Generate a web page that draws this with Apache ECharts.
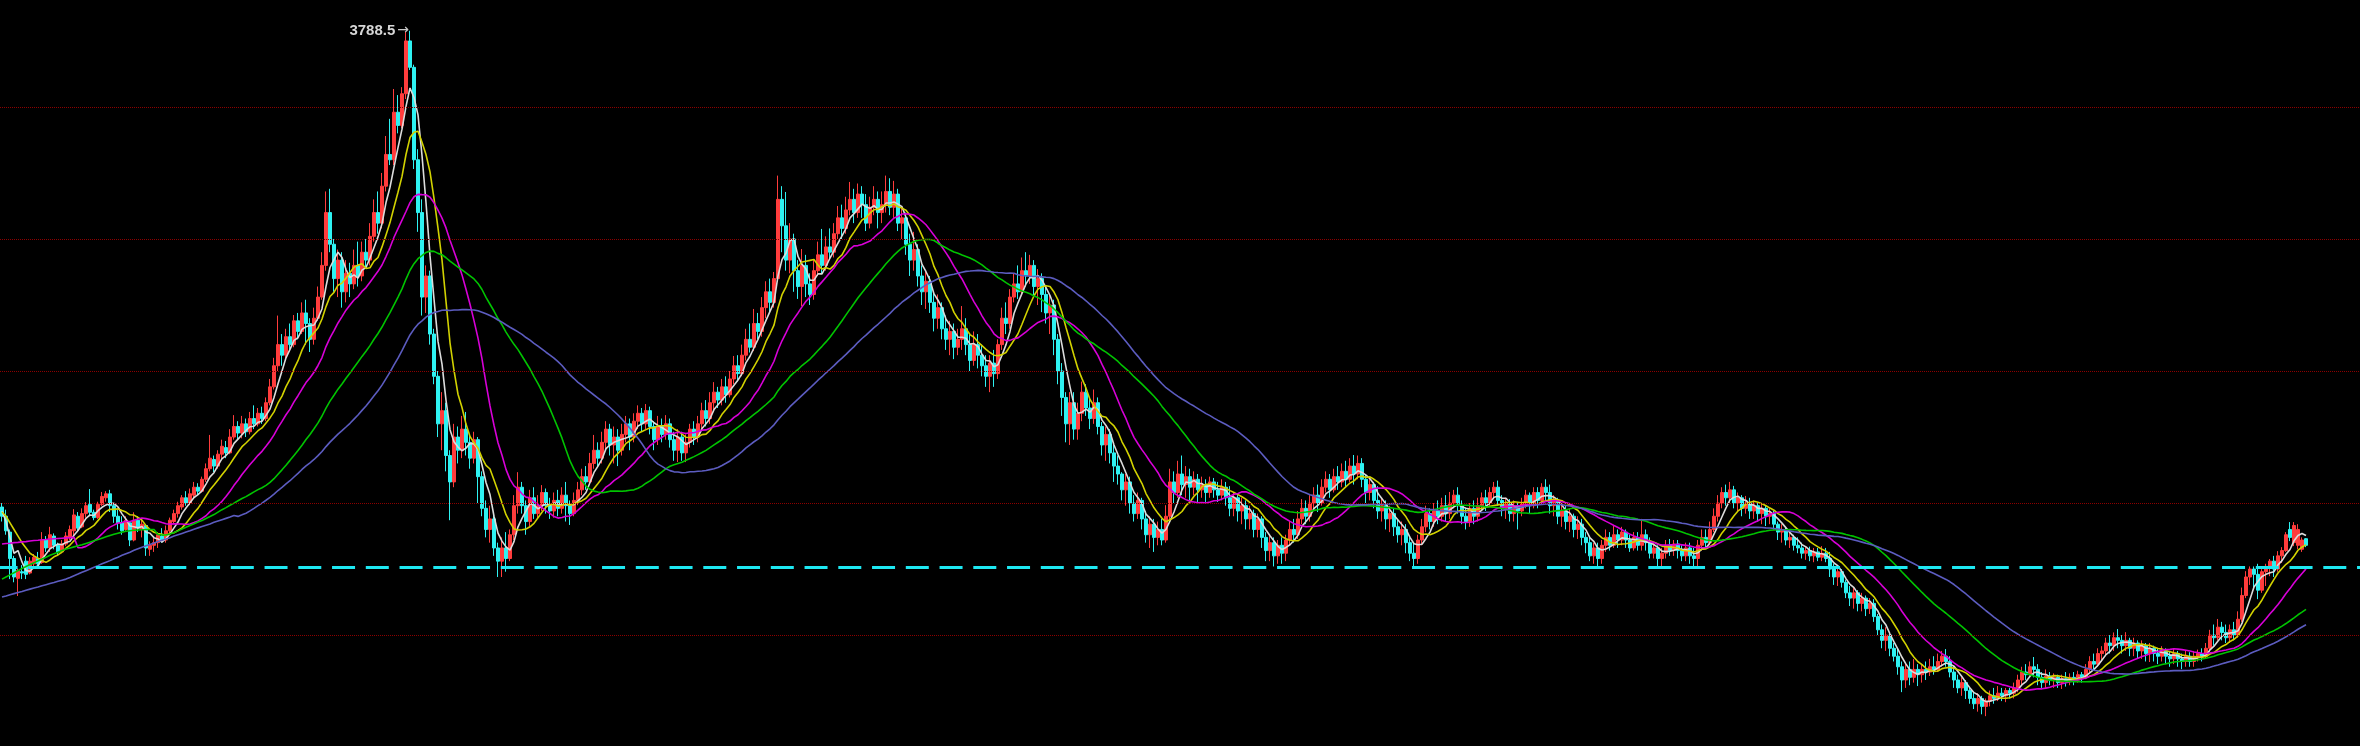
<!DOCTYPE html>
<html><head><meta charset="utf-8">
<script src="https://cdn.jsdelivr.net/npm/echarts@6/dist/echarts.min.js"></script>
<style>html,body{margin:0;padding:0;background:#000;}#c{width:2360px;height:746px;}</style>
</head><body><div id="c"></div>
<script>
// weekly candles: [open, close, low, high]
const candles = [
[1985,1950,1930,2000],[1950,1895,1880,1975],[1890,1790,1712,1900],[1790,1720,1700,1800],[1715,1745,1648,1752],[1740,1735,1712,1765],[1780,1730,1712,1800],[1735,1780,1730,1795],[1770,1795,1750,1807],[1790,1770,1760,1815],
[1775,1860,1770,1890],[1860,1830,1815,1875],[1830,1880,1815,1910],[1875,1840,1825,1885],[1840,1815,1800,1850],[1815,1845,1810,1860],[1845,1875,1837,1890],[1870,1900,1860,1915],[1895,1955,1875,1977],[1950,1905,1890,1966],
[1910,1960,1905,1980],[1960,1990,1945,2004],[1995,1965,1950,2053],[1965,1945,1935,1975],[1945,1995,1940,2005],[1995,2025,1989,2042],[2020,2035,2005,2045],[2035,1990,1966,2050],[1990,1950,1925,2000],[1950,1925,1900,1975],
[1925,1895,1880,1950],[1900,1935,1895,1950],[1925,1860,1837,1928],[1860,1935,1855,1965],[1935,1905,1890,1950],[1900,1920,1870,1940],[1915,1830,1800,1920],[1825,1840,1800,1855],[1840,1850,1815,1870],[1850,1880,1830,1890],
[1875,1860,1850,1905],[1860,1895,1850,1915],[1895,1935,1885,1945],[1930,1960,1920,1975],[1960,1990,1945,2005],[1985,2020,1975,2030],[2020,2000,1990,2045],[2000,2035,1992,2055],[2030,2060,2020,2080],[2060,2045,2030,2075],
[2045,2090,2040,2100],[2090,2130,2080,2150],[2130,2170,2120,2258],[2165,2140,2117,2180],[2140,2185,2130,2200],[2185,2215,2165,2240],[2210,2190,2170,2235],[2190,2250,2185,2280],[2250,2290,2240,2333],[2290,2265,2242,2310],
[2265,2300,2245,2330],[2300,2270,2250,2320],[2270,2320,2260,2345],[2320,2300,2280,2370],[2300,2340,2290,2360],[2340,2320,2300,2365],[2320,2380,2310,2400],[2380,2440,2370,2470],[2440,2520,2430,2550],[2520,2600,2500,2710],
[2600,2560,2520,2640],[2560,2630,2540,2660],[2630,2600,2575,2680],[2600,2690,2590,2712],[2690,2650,2620,2720],[2650,2720,2640,2760],[2720,2680,2600,2770],[2680,2620,2572,2700],[2620,2700,2600,2740],[2700,2780,2690,2820],
[2780,2900,2770,2950],[2900,3100,2880,3180],[3100,2980,2950,3190],[2980,2850,2800,3000],[2850,2920,2780,2960],[2920,2800,2740,2950],[2800,2870,2760,2920],[2870,2830,2780,2910],[2830,2900,2810,2960],[2900,2860,2820,2990],
[2860,2950,2840,2990],[2950,2920,2890,3000],[2920,3010,2900,3060],[3010,3100,2990,3150],[3100,3060,3020,3180],[3060,3200,3040,3250],[3200,3320,3180,3390],[3320,3300,3280,3455],[3300,3480,3280,3568],[3480,3430,3400,3545],
[3430,3550,3420,3575],[3550,3750,3530,3784],[3750,3650,3640,3788.5],[3650,3300,3265,3660],[3300,3100,3027,3340],[3100,2780,2710,3150],[2780,2860,2720,2900],[2860,2640,2600,2880],[2640,2480,2450,2660],[2480,2300,2250,2500],
[2300,2350,2200,2420],[2350,2180,2120,2380],[2180,2080,1935,2200],[2080,2250,2060,2300],[2250,2200,2150,2290],[2200,2280,2170,2330],[2280,2230,2180,2345],[2230,2170,2130,2260],[2170,2240,2150,2270],[2240,2100,2000,2250],
[2100,1980,1950,2120],[1980,1900,1870,2010],[1900,1940,1850,1990],[1940,1830,1800,1960],[1830,1780,1720,1850],[1780,1830,1720,1870],[1830,1790,1740,1890],[1790,1880,1780,1900],[1880,1990,1860,2030],[1990,2060,1960,2117],
[2060,1990,1960,2080],[1990,1930,1880,2010],[1930,2020,1910,2050],[2020,1960,1940,2060],[1960,1990,1940,2030],[1990,2040,1970,2068],[2040,1990,1960,2055],[1990,1970,1940,2020],[1970,2010,1945,2040],[2010,1980,1950,2050],
[1980,2030,1960,2060],[2030,1990,1930,2080],[1990,1960,1917,2010],[1960,2010,1950,2040],[2010,2050,1992,2080],[2050,2100,2030,2130],[2100,2080,2050,2140],[2080,2150,2070,2190],[2150,2200,2130,2258],[2200,2170,2140,2230],
[2170,2230,2150,2270],[2230,2280,2200,2310],[2280,2220,2180,2300],[2220,2250,2150,2290],[2250,2200,2140,2280],[2200,2260,2180,2300],[2260,2300,2230,2330],[2300,2250,2200,2320],[2250,2310,2230,2340],[2310,2340,2280,2370],
[2340,2300,2270,2360],[2300,2350,2280,2375],[2350,2290,2260,2365],[2290,2240,2200,2310],[2240,2290,2220,2330],[2290,2260,2230,2320],[2260,2300,2240,2333],[2300,2240,2210,2320],[2240,2200,2160,2270],[2200,2250,2155,2280],
[2250,2190,2160,2270],[2190,2230,2155,2260],[2230,2280,2210,2300],[2280,2250,2220,2310],[2250,2300,2230,2330],[2300,2350,2280,2380],[2350,2320,2290,2390],[2320,2380,2300,2420],[2380,2420,2350,2458],[2420,2390,2360,2440],
[2390,2440,2370,2470],[2440,2410,2380,2480],[2410,2470,2400,2500],[2470,2520,2450,2557],[2520,2490,2460,2560],[2490,2560,2480,2600],[2560,2620,2540,2660],[2620,2590,2570,2680],[2590,2680,2575,2735],[2680,2650,2620,2720],
[2650,2740,2630,2780],[2740,2800,2700,2840],[2800,2760,2720,2850],[2760,2850,2740,2875],[2850,3150,2840,3240],[3150,3050,2950,3200],[3050,2920,2880,3178],[2920,3000,2870,3060],[3000,2880,2800,3020],[2880,2820,2773,2920],
[2820,2900,2746,2962],[2900,2830,2780,2940],[2830,2790,2750,2870],[2790,2880,2770,2920],[2880,2940,2860,2990],[2940,2900,2870,3038],[2900,2970,2880,3010],[2970,2950,2925,3040],[2950,3020,2930,3060],[3020,3080,3000,3125],
[3080,3040,3000,3130],[3040,3110,3020,3160],[3110,3150,3090,3216],[3150,3100,3060,3190],[3100,3170,3080,3210],[3170,3130,3080,3200],[3130,3060,3030,3170],[3060,3120,3040,3160],[3120,3150,3090,3200],[3150,3100,3040,3180],
[3100,3130,3060,3180],[3130,3180,3100,3240],[3180,3120,3090,3230],[3120,3170,3080,3220],[3170,3060,3030,3190],[3060,3080,3000,3125],[3080,2980,2940,3100],[2980,2920,2860,3020],[2920,2960,2880,3027],[2960,2860,2820,2980],
[2860,2800,2750,2900],[2800,2840,2735,2880],[2840,2760,2720,2860],[2760,2700,2650,2800],[2700,2740,2660,2790],[2740,2660,2620,2760],[2660,2620,2580,2710],[2620,2650,2560,2690],[2650,2590,2545,2680],[2590,2620,2560,2660],
[2620,2660,2580,2746],[2660,2600,2560,2700],[2600,2540,2500,2640],[2540,2600,2520,2650],[2600,2560,2510,2640],[2560,2520,2480,2600],[2520,2480,2440,2560],[2480,2530,2420,2560],[2530,2490,2440,2580],[2490,2600,2470,2620],
[2600,2700,2580,2740],[2700,2680,2640,2760],[2680,2780,2660,2810],[2780,2830,2760,2870],[2830,2800,2773,2900],[2800,2880,2790,2930],[2880,2860,2820,2950],[2860,2900,2830,2940],[2900,2820,2780,2920],[2820,2850,2750,2886],
[2850,2790,2723,2870],[2790,2720,2680,2820],[2720,2750,2640,2790],[2750,2620,2560,2770],[2620,2500,2450,2640],[2500,2400,2330,2530],[2400,2300,2230,2420],[2300,2380,2220,2420],[2380,2280,2240,2420],[2280,2340,2240,2380],
[2340,2420,2310,2460],[2420,2360,2330,2450],[2360,2320,2280,2400],[2320,2380,2300,2430],[2380,2290,2260,2400],[2290,2220,2180,2307],[2220,2260,2160,2290],[2260,2190,2150,2280],[2190,2140,2080,2220],[2140,2110,2070,2180],
[2110,2050,2010,2117],[2050,2080,1990,2110],[2080,2000,1960,2100],[2000,1960,1930,2030],[1960,2010,1940,2040],[2010,1940,1900,2020],[1940,1880,1850,1970],[1880,1920,1830,1950],[1920,1870,1815,1940],[1870,1900,1840,1930],
[1900,1860,1840,1940],[1860,1950,1850,1992],[1950,2080,1930,2130],[2080,2040,2000,2120],[2040,2110,2020,2160],[2110,2070,2030,2180],[2070,2100,2020,2140],[2100,2060,2010,2130],[2060,2090,2030,2120],[2090,2050,2000,2110],
[2050,2070,2020,2100],[2070,2040,2004,2090],[2040,2080,2020,2100],[2080,2050,2020,2095],[2050,2030,2004,2080],[2030,2060,2010,2090],[2060,2020,1990,2080],[2020,1980,1950,2064],[1980,2020,1950,2040],[2020,1970,1930,2030],
[1970,1990,1920,2020],[1990,1940,1900,2010],[1940,1960,1900,1990],[1960,1900,1870,1975],[1900,1940,1870,1960],[1940,1870,1830,1950],[1870,1820,1780,1890],[1820,1850,1780,1880],[1850,1800,1760,1870],[1800,1840,1770,1860],
[1840,1810,1770,1870],[1810,1860,1780,1880],[1860,1900,1840,1930],[1900,1880,1850,1940],[1880,1940,1864,1970],[1940,1980,1920,2015],[1980,1950,1920,2010],[1950,2000,1930,2030],[2000,2030,1970,2060],[2030,2000,1966,2070],
[2000,2060,1990,2090],[2060,2090,2040,2120],[2090,2050,2020,2110],[2050,2100,2040,2130],[2100,2080,2050,2140],[2080,2120,2060,2150],[2120,2090,2060,2160],[2090,2140,2080,2170],[2140,2110,2070,2182],[2110,2150,2090,2180],
[2150,2090,2060,2170],[2090,2040,2000,2110],[2040,2070,2010,2100],[2070,2010,1980,2080],[2010,1970,1940,2064],[1970,1990,1930,2020],[1990,1940,1900,2010],[1940,1960,1890,1990],[1960,1910,1875,1980],[1910,1880,1850,1940],
[1880,1900,1840,1930],[1900,1850,1810,1920],[1850,1810,1780,1870],[1810,1790,1760,1850],[1790,1860,1770,1880],[1860,1910,1840,1940],[1910,1960,1890,1990],[1960,1930,1900,1980],[1930,1970,1910,2000],[1970,1950,1920,2010],
[1950,1990,1930,2020],[1990,1960,1930,2030],[1960,2000,1940,2042],[2000,2030,1980,2050],[2030,1990,1960,2060],[1990,1950,1920,2010],[1950,1930,1900,1980],[1930,1980,1910,2000],[1980,1950,1920,2010],[1950,1990,1930,2020],
[1990,2020,1970,2040],[2020,2000,1970,2050],[2000,2040,1990,2060],[2040,2060,2020,2080],[2060,2010,1990,2085],[2010,1980,1950,2030],[1980,2000,1940,2020],[2000,1960,1930,2015],[1960,1990,1930,2010],[1990,1970,1900,2000],
[1970,2000,1950,2020],[2000,2030,1980,2050],[2030,1990,1960,2040],[1990,2040,1980,2060],[2040,2010,1980,2060],[2010,2060,2000,2075],[2060,2040,2010,2090],[2040,1990,1960,2070],[1990,2010,1950,2030],[2010,1950,1920,2020],
[1950,1970,1910,2000],[1970,1930,1900,1990],[1930,1950,1890,1980],[1950,1900,1870,1960],[1900,1920,1864,1950],[1920,1870,1840,1940],[1870,1850,1810,1890],[1850,1800,1780,1870],[1800,1830,1770,1850],[1830,1790,1760,1850],
[1790,1840,1770,1860],[1840,1870,1815,1900],[1870,1840,1820,1890],[1840,1880,1830,1913],[1880,1860,1830,1900],[1860,1890,1840,1910],[1890,1860,1830,1900],[1860,1830,1815,1880],[1830,1870,1820,1890],[1870,1840,1820,1890],
[1840,1880,1820,1940],[1880,1850,1820,1900],[1850,1810,1790,1870],[1810,1830,1790,1850],[1830,1790,1760,1840],[1790,1810,1760,1830],[1810,1840,1790,1860],[1840,1820,1800,1864],[1820,1845,1800,1860],[1845,1820,1790,1860],
[1820,1800,1780,1840],[1800,1830,1780,1850],[1830,1800,1770,1850],[1800,1790,1760,1830],[1790,1840,1760,1860],[1840,1870,1820,1900],[1870,1850,1830,1900],[1850,1900,1840,1930],[1900,1950,1890,1980],[1950,2000,1930,2030],
[2000,2040,1980,2060],[2040,2020,1990,2070],[2020,2050,2000,2080],[2050,2000,1980,2065],[2000,2020,1970,2040],[2020,1980,1950,2030],[1980,2000,1960,2027],[2000,1970,1940,2020],[1970,1990,1940,2010],[1990,1960,1930,2000],
[1960,1980,1920,2000],[1980,1950,1913,1990],[1950,1960,1920,1980],[1960,1920,1900,1970],[1920,1890,1860,1930],[1890,1900,1850,1920],[1900,1860,1840,1910],[1860,1870,1830,1890],[1870,1840,1820,1880],[1840,1830,1810,1870],
[1830,1810,1790,1850],[1810,1820,1785,1837],[1820,1800,1780,1835],[1800,1815,1776,1830],[1815,1795,1780,1830],[1795,1810,1780,1837],[1810,1790,1776,1830],[1790,1750,1720,1815],[1750,1720,1690,1770],[1720,1740,1686,1760],
[1740,1700,1680,1750],[1700,1660,1640,1710],[1660,1640,1610,1686],[1640,1660,1600,1680],[1660,1620,1590,1670],[1620,1640,1590,1660],[1640,1600,1572,1650],[1600,1620,1580,1640],[1620,1570,1550,1636],[1570,1520,1500,1580],
[1520,1480,1450,1540],[1480,1500,1440,1530],[1500,1450,1420,1510],[1450,1420,1400,1470],[1420,1380,1350,1447],[1380,1330,1284,1400],[1330,1370,1300,1390],[1370,1340,1310,1400],[1340,1370,1320,1409],[1370,1350,1307,1390],
[1350,1370,1320,1390],[1370,1360,1330,1400],[1360,1380,1345,1410],[1380,1370,1350,1420],[1370,1400,1360,1430],[1400,1420,1380,1440],[1420,1400,1380,1447],[1400,1360,1340,1420],[1360,1330,1300,1383],[1330,1300,1280,1350],
[1300,1320,1270,1340],[1320,1290,1258,1330],[1290,1260,1240,1300],[1260,1240,1220,1284],[1240,1260,1210,1280],[1260,1230,1200,1270],[1230,1250,1193,1260],[1250,1270,1230,1290],[1270,1260,1240,1300],[1260,1280,1250,1307],
[1280,1270,1250,1300],[1270,1290,1246,1300],[1290,1280,1260,1300],[1280,1300,1260,1320],[1300,1330,1284,1350],[1330,1360,1310,1380],[1360,1350,1330,1390],[1350,1380,1340,1400],[1380,1370,1340,1417],[1370,1340,1310,1390],
[1340,1320,1300,1360],[1320,1345,1300,1370],[1345,1330,1310,1360],[1330,1340,1300,1355],[1340,1320,1300,1350],[1320,1335,1296,1350],[1335,1325,1305,1360],[1325,1340,1310,1355],[1340,1330,1310,1360],[1330,1350,1320,1365],
[1350,1340,1320,1360],[1340,1370,1333,1390],[1370,1400,1360,1420],[1400,1390,1370,1430],[1390,1430,1380,1450],[1430,1440,1400,1458],[1440,1470,1420,1490],[1470,1460,1430,1500],[1460,1490,1440,1510],[1490,1480,1450,1523],
[1480,1460,1430,1500],[1460,1480,1440,1511],[1480,1450,1420,1490],[1450,1470,1420,1490],[1470,1440,1410,1480],[1440,1460,1410,1480],[1460,1430,1400,1470],[1430,1450,1398,1470],[1450,1430,1400,1460],[1430,1420,1390,1450],
[1420,1440,1400,1458],[1440,1420,1390,1450],[1420,1410,1380,1440],[1410,1430,1390,1450],[1430,1410,1380,1440],[1410,1400,1371,1430],[1400,1420,1380,1440],[1420,1400,1380,1435],[1400,1420,1380,1440],[1420,1430,1400,1445],
[1430,1420,1400,1450],[1420,1450,1410,1470],[1450,1500,1436,1520],[1500,1490,1460,1540],[1490,1530,1480,1561],[1530,1510,1480,1550],[1510,1490,1470,1540],[1490,1520,1470,1540],[1520,1500,1480,1550],[1500,1560,1490,1590],
[1560,1650,1550,1680],[1650,1720,1640,1742],[1720,1750,1690,1760],[1750,1730,1680,1760],[1730,1670,1636,1770],[1670,1740,1660,1750],[1740,1760,1686,1770],[1760,1780,1723,1788],[1780,1750,1720,1800],[1750,1800,1740,1818],
[1800,1820,1773,1833],[1820,1880,1815,1890],[1900,1870,1856,1928],[1850,1915,1837,1928],[1840,1900,1826,1920],[1825,1860,1815,1870],[1865,1840,1833,1867]
];

const maPeriods = [5, 10, 20, 40, 60];
const maColors = ['#dcdcdc', '#d2d200', '#d800d8', '#00c400', '#5c5cc0'];
const ma5Lead = [1970, 1930, 1870, 1810];
const ma10Lead = [1966, 1950, 1925, 1900, 1875, 1850, 1830, 1810, 1800];
const ma20Lead = [1845,1847,1848,1850,1851,1853,1854,1856,1858,1859,1861,1862,1864,1865,1866,1867,1868,1869,1870];
const ma40Lead = [1712,1720,1728,1736,1744,1752,1760,1767,1774,1781,1788,1795,1802,1808,1814,1820,1826,1830,1834,1838,1842,1847,1852,1857,1862,1867,1872,1877,1882,1886,1890,1893,1895,1897,1898,1899,1900,1900,1900];
const ma60Lead = [1644,1648,1653,1657,1661,1665,1670,1674,1678,1682,1687,1691,1695,1699,1704,1708,1712,
1718,1725,1731,1738,1744,1750,1757,1763,1770,1776,1782,1789,1795,1802,1808,1814,1821,1827,1833,
1838,1843,1849,1854,1859,1864,1869,1875,1880,1885,1890,1895,1901,1906,1911,1916,1921,1927,1932,1937,1942,1947,1953];
const maLeads = [ma5Lead, ma10Lead, ma20Lead, ma40Lead, ma60Lead];

const gridLevels = [1500, 2000, 2500, 3000, 3500];
const supportLevel = 1757;
const slotCount = 590;
const weeks = Array.from({length: slotCount}, (_, i) => 'W' + (i + 1));

const closes = candles.map(d => d[1]);
function movingAverage(n, lead) {
  return closes.map((c, i) => {
    if (i < n - 1) return lead[i];
    let s = 0;
    for (let k = i - n + 1; k <= i; k++) s += closes[k];
    return +(s / n).toFixed(2);
  });
}

let maxIdx = 0;
candles.forEach((d, i) => { if (d[3] > candles[maxIdx][3]) maxIdx = i; });
const maxHigh = candles[maxIdx][3];

const chart = echarts.init(document.getElementById('c'), null, {renderer: 'canvas'});
const series = [
  {
    type: 'line', data: [], silent: true, z: 1,
    markLine: {
      silent: true, symbol: ['none', 'none'], animation: false,
      label: {show: false},
      lineStyle: {type: 'dotted', color: '#8c0000', width: 1},
      data: gridLevels.map(v => ({yAxis: v}))
    }
  },
  {
    type: 'candlestick', data: candles, barWidth: 2.6, z: 2, silent: true,
    itemStyle: {color: '#ff3c3c', color0: '#2ef2f2', borderColor: '#ff3c3c', borderColor0: '#2ef2f2', borderWidth: 1},
    markPoint: {
      silent: true, symbol: 'circle', symbolSize: 0, animation: false,
      data: [{coord: [maxIdx, maxHigh], value: maxHigh}],
      label: {
        show: true, position: 'left', distance: 1,
        formatter: p => '{v|' + p.value + '}{a|→}',
        rich: {
          v: {color: '#d6d6d6', fontSize: 15, fontWeight: 'bold', fontFamily: 'Liberation Sans, Arial, sans-serif'},
          a: {color: '#c8c8c8', fontSize: 14, fontFamily: 'DejaVu Sans, sans-serif', padding: [0, 0, 0, 2]}
        }
      }
    }
  }
];
maPeriods.forEach((n, k) => {
  series.push({
    type: 'line', data: movingAverage(n, maLeads[k]), showSymbol: false, symbol: 'none',
    silent: true, z: 3, lineStyle: {width: 1.6, color: maColors[k]}
  });
});
series.push({
  type: 'line', data: [], silent: true, z: 4,
  markLine: {
    silent: true, symbol: ['none', 'none'], animation: false,
    label: {show: false},
    lineStyle: {type: [23, 10.75], dashOffset: 5.45, color: '#1ee8f2', width: 3},
    data: [{yAxis: supportLevel}]
  }
});

chart.setOption({
  backgroundColor: '#000000',
  animation: false,
  grid: {left: 0, right: 0, top: 0, bottom: 0},
  xAxis: {type: 'category', data: weeks, boundaryGap: true, show: false},
  yAxis: {type: 'value', min: 1080, max: 3905, show: false, splitLine: {show: false}},
  series: series
});
</script>
</body></html>
